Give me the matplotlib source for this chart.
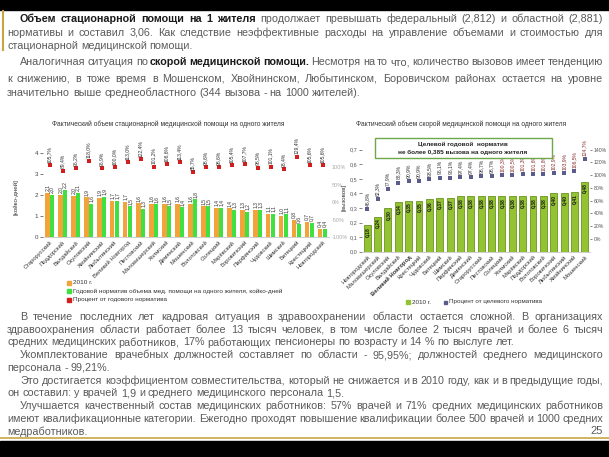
import numpy as np
import matplotlib
matplotlib.use('Agg')
import matplotlib.pyplot as plt
from matplotlib.patches import Rectangle
from matplotlib.lines import Line2D
from matplotlib.font_manager import FontProperties

plt.rcParams['font.family'] = ['Liberation Sans', 'DejaVu Sans']

# ---------------- data ----------------
hosp_districts = ["Старорусский", "Поддорский", "Валдайский", "Окуловский", "Хвойнинский",
                  "Любытинский", "Великий Новгород", "Пестовский", "Маловишерский", "Холмский",
                  "Демянский", "Мошенский", "Волотовский", "Солецкий", "Марёвский",
                  "Боровичский", "Парфинский", "Чудовский", "Шимский", "Батецкий",
                  "Крестецкий", "Новгородский"]
hosp_2010 = [2.11, 2.0, 1.97, 1.89, 1.86, 1.73, 1.66, 1.6, 1.58, 1.58, 1.58,
             1.58, 1.46, 1.38, 1.36, 1.3, 1.3, 1.1, 1.0, 0.81, 0.73, 0.38]
hosp_norm = [2.0, 2.24, 2.1, 1.57, 1.92, 1.73, 1.46, 1.33, 1.56, 1.46, 1.41,
             1.79, 1.46, 1.4, 1.29, 1.2, 1.3, 1.1, 1.08, 0.6, 0.68, 0.38]
hosp_pct = [105.7, 89.4, 96.2, 118.0, 96.9, 100.0, 113.0, 122.4, 101.2, 108.6, 113.4,
            85.7, 98.6, 98.6, 105.4, 107.7, 98.5, 101.1, 93.4, 129.4, 105.6, 105.6]

amb_districts = ["Новгородский", "Маловишерский", "Окуловский", "Валдайский", "Великий Новгород",
                 "Крестецкий", "Чудовский", "Батецкий", "Шимский", "Парфинский",
                 "Демянский", "Старорусский", "Пестовский", "Солецкий", "Холмский",
                 "Марёвский", "Поддорский", "Волотовский", "Боровичский", "Любытинский",
                 "Хвойнинский", "Мошенский"]
amb_2010 = [0.18, 0.24, 0.30, 0.34, 0.35, 0.35, 0.36, 0.37, 0.37, 0.38, 0.38,
            0.38, 0.38, 0.38, 0.38, 0.38, 0.38, 0.38, 0.40, 0.40, 0.41, 0.48]
amb_pct = [46.8, 62.3, 77.9, 88.3, 90.9, 90.9, 93.5, 96.1, 96.1, 97.4, 97.4,
           98.7, 98.7, 100.3, 100.5, 101.3, 101.6, 101.8, 102.9, 103.9, 106.5, 124.7]

# ---------------- figure ----------------
W, H = 609, 457
fig = plt.figure(figsize=(W / 100, H / 100), dpi=100)
fig.patch.set_facecolor('white')


def fx(x):
    return x / W


def fy(y):
    return 1 - y / H


# frame decorations
fig.patches.append(Rectangle((0, fy(10)), 1, 10 / H, transform=fig.transFigure, color='black', zorder=0))
fig.patches.append(Rectangle((0, 0), 1, 16 / H, transform=fig.transFigure, color='black', zorder=0))
fig.lines.append(Line2D([fx(0), fx(609)], [fy(438), fy(438)], transform=fig.transFigure,
                        color='#C9A445', lw=1.2))
fig.lines.append(Line2D([fx(2.5), fx(2.5)], [fy(11), fy(50)], transform=fig.transFigure,
                        color='#C9A445', lw=1.5))

# ---------------- justified text ----------------
renderer = fig.canvas.get_renderer()
TXT = 7.75
GRAY = '#5a5a5a'


def measure(s, bold, size):
    fp = FontProperties(family='Liberation Sans', size=size, weight='bold' if bold else 'normal')
    w, h, d = renderer.get_text_width_height_descent(s, fp, ismath=False)
    return w


def draw_line(tokens, x0, y, justify=True, x1=603, size=TXT):
    words = []
    for t, b in tokens:
        for w in t.split():
            words.append((w, b))
    widths = [measure(w, b, size) for w, b in words]
    sp = measure('a a', False, size) - measure('aa', False, size)
    if justify and len(words) > 1:
        gap = (x1 - x0 - sum(widths)) / (len(words) - 1)
    else:
        gap = sp
    x = x0
    for (w, b), wd in zip(words, widths):
        fig.text(fx(x), fy(y), w, fontsize=size, fontweight='bold' if b else 'normal',
                 color='#1a1a1a' if b else GRAY, va='center', ha='left')
        x += wd + gap


N = False
B = True
draw_line([("Объем стационарной помощи на 1 жителя", B),
           ("продолжает превышать федеральный (2,812) и областной (2,881)", N)], 20, 19)
draw_line([("нормативы и составил 3,06. Как следствие неэффективные расходы на управление объемами и стоимостью для", N)], 7, 32.5)
draw_line([("стационарной медицинской помощи.", N)], 7, 46, justify=False)

draw_line([("Аналогичная ситуация по", N), ("скорой медицинской помощи.", B),
           ("Несмотря на то что, количество вызовов имеет тенденцию", N)], 20, 62.5)
draw_line([("к снижению, в тоже время в Мошенском, Хвойнинском, Любытинском, Боровичском районах остается на уровне", N)], 7, 78.5)
draw_line([("значительно выше среднеобластного (344 вызова - на 1000 жителей).", N)], 7, 93, justify=False)

bottom_lines = [
    ("В течение последних лет кадровая ситуация в здравоохранении области остается сложной. В организациях", 20, True),
    ("здравоохранения области работает более 13 тысяч человек, в том числе более 2 тысяч врачей и более 6 тысяч", 7, True),
    ("средних медицинских работников, 17% работающих пенсионеры по возрасту и 14 % по выслуге лет.", 7, False),
    ("Укомплектование врачебных должностей составляет по области - 95,95%; должностей среднего медицинского", 20, True),
    ("персонала - 99,21%.", 7, False),
    ("Это достигается коэффициентом совместительства, который не снижается и в 2010 году, как и в предыдущие годы,", 20, True),
    ("он составил: у врачей 1,9 и среднего медицинского персонала 1,5.", 7, False),
    ("Улучшается качественный состав медицинских работников: 57% врачей и 71% средних медицинских работников", 20, True),
    ("имеют квалификационные категории. Ежегодно проходят повышение квалификации более 500 врачей и 1000 средних", 7, True),
    ("медработников.", 7, False),
]
for i, (t, x0, j) in enumerate(bottom_lines):
    draw_line([(t, N)], x0, 317 + i * 12.7, justify=j)

fig.text(fx(603), fy(431), "25", fontsize=8, color=GRAY, ha='right', va='center')

# ---------------- left chart ----------------
ORANGE = '#F2A33A'
GREEN = '#3FE03F'
RED = '#D41E1E'
SMALL = 3.6

axL = fig.add_axes([fx(43), fy(237), 286 / W, 105 / H])
x = np.arange(len(hosp_districts))
bw = 0.38
axL.bar(x - bw / 2, hosp_2010, bw, color=ORANGE, zorder=2)
axL.bar(x + bw / 2, hosp_norm, bw, color=GREEN, zorder=2)
axL.set_xlim(-0.5, len(x) - 0.5)
axL.set_ylim(0, 5)
axL.set_yticks([0, 1, 2, 3, 4])
axL.set_yticklabels(['0', '1', '2', '3', '4'])
axL.tick_params(axis='y', labelsize=4.5, colors='#444444', length=2, width=0.5, pad=1.5)
axL.set_xticks(x)
axL.set_xticklabels(hosp_districts, rotation=45, ha='right', rotation_mode='anchor',
                    fontsize=4.2, color='#333333')
axL.tick_params(axis='x', length=0, pad=2)
for s in ['top', 'right', 'left']:
    axL.spines[s].set_visible(False)
axL.spines['bottom'].set_color('#bbbbbb')
axL.spines['bottom'].set_linewidth(0.5)
for xi, v in zip(x - bw / 2, hosp_2010):
    axL.text(xi, v + 0.08, f"{v:.1f}".replace('.', ','), rotation=90, ha='center', va='bottom',
             fontsize=SMALL, color='#333333')
for xi, v in zip(x + bw / 2, hosp_norm):
    axL.text(xi, v + 0.08, f"{v:.1f}".replace('.', ','), rotation=90, ha='center', va='bottom',
             fontsize=SMALL, color='#333333')

axL2 = axL.twinx()
axL2.set_ylim(-100, 200)
axL2.scatter(x, hosp_pct, marker='s', s=12, color=RED, zorder=3, linewidths=0)
for xi, p in zip(x, hosp_pct):
    axL2.text(xi, p + 7, f"{p:.1f}%".replace('.', ','), rotation=90, ha='center', va='bottom',
              fontsize=SMALL, color='#333333')
axL2.set_yticks([-100, -50, 0, 50, 100])
axL2.set_yticklabels(['-100%', '-50%', '0%', '50%', '100%'])
axL2.tick_params(axis='y', labelsize=4, colors='#aaaaaa', length=0, pad=2)
for s in axL2.spines.values():
    s.set_visible(False)

fig.text(fx(168), fy(124), "Фактический объем стационарной медицинской помощи на одного жителя",
         fontsize=4.8, color='#333333', ha='center', va='center')
fig.text(fx(16), fy(197), "[койко-дней]", rotation=90, fontsize=4.5, color='#333333',
         ha='center', va='center')

legL = [(ORANGE, "2010 г."),
        (GREEN, "Годовой норматив объема мед. помощи на одного жителя, койко-дней"),
        (RED, "Процент от годового норматива")]
for i, (c, t) in enumerate(legL):
    yy = 282.5 + i * 8.5
    fig.patches.append(Rectangle((fx(67), fy(yy + 2)), 4 / W, 4 / H, transform=fig.transFigure,
                                 color=c))
    fig.text(fx(73), fy(yy), t, fontsize=4.6, color='#333333', ha='left', va='center')

# ---------------- right chart ----------------
LIME = '#93C233'
axR = fig.add_axes([fx(362), fy(251.7), 228 / W, 102 / H])
xr = np.arange(len(amb_districts))
axR.bar(xr, amb_2010, 0.66, color=LIME, edgecolor='#6B9420', linewidth=0.6, zorder=2)
axR.set_xlim(-0.5, len(xr) - 0.5)
axR.set_ylim(0, 0.7)
yt = np.round(np.arange(0, 0.71, 0.1), 1)
axR.set_yticks(yt)
axR.set_yticklabels([f"{v:.1f}".replace('.', ',') for v in yt])
axR.tick_params(axis='y', labelsize=4, colors='#555555', length=2, width=0.5, pad=1.5)
axR.set_xticks(xr)
labs = axR.set_xticklabels(amb_districts, rotation=45, ha='right', rotation_mode='anchor',
                           fontsize=4.2, color='#333333')
for lab in labs:
    if lab.get_text() == "Великий Новгород":
        lab.set_fontweight('bold')
axR.tick_params(axis='x', length=0, pad=2)
for s in ['top', 'right', 'left']:
    axR.spines[s].set_visible(False)
axR.spines['bottom'].set_color('#bbbbbb')
axR.spines['bottom'].set_linewidth(0.5)
for xi, v in zip(xr, amb_2010):
    axR.text(xi, v - 0.012, f"{v:.2f}".replace('.', ','), rotation=90, ha='center', va='top',
             fontsize=SMALL, color='#1a1a1a', fontweight='bold')

axR2 = axR.twinx()
axR2.set_ylim(-20, 140)
axR2.scatter(xr, amb_pct, marker='s', s=7, color='#5C5C8C', zorder=3, linewidths=0)
for xi, p in zip(xr, amb_pct):
    axR2.text(xi, p + 5, f"{p:.1f}%".replace('.', ','), rotation=90, ha='center', va='bottom',
              fontsize=SMALL, color='#8B2E2E' if p > 100 else '#333333')
pt = np.arange(0, 141, 20)
axR2.set_yticks(pt)
axR2.set_yticklabels([f"{v}%" for v in pt])
axR2.tick_params(axis='y', labelsize=3.7, colors='#555555', length=1.5, width=0.5, pad=1)
for s in axR2.spines.values():
    s.set_visible(False)

fig.text(fx(461), fy(124), "Фактический объем скорой медицинской помощи на одного жителя",
         fontsize=4.8, color='#333333', ha='center', va='center')
fig.text(fx(344), fy(197), "[вызовов]", rotation=90, fontsize=4.5, color='#333333',
         ha='center', va='center')

fig.patches.append(Rectangle((fx(375), fy(158)), 177 / W, 20 / H, transform=fig.transFigure,
                             facecolor='white', edgecolor='#6FA84A', linewidth=1.0, zorder=5))
fig.text(fx(463), fy(144), "Целевой годовой  норматив", fontsize=4.6, color='#222222',
         ha='center', va='center', fontweight='bold', zorder=6)
fig.text(fx(463), fy(152.5), "не более 0,385 вызова на одного жителя", fontsize=4.6,
         color='#222222', ha='center', va='center', fontweight='bold', zorder=6)

fig.patches.append(Rectangle((fx(406), fy(304)), 4 / W, 4 / H, transform=fig.transFigure, color=LIME))
fig.text(fx(412), fy(302), "2010 г.", fontsize=4.5, color='#333333', ha='left', va='center')
fig.patches.append(Rectangle((fx(444), fy(303.5)), 3 / W, 3 / H, transform=fig.transFigure, color='#5C5C8C'))
fig.text(fx(449), fy(302), "Процент от целевого норматива", fontsize=4.5, color='#333333',
         ha='left', va='center')

fig.savefig('out.png', dpi=100, facecolor='white')
